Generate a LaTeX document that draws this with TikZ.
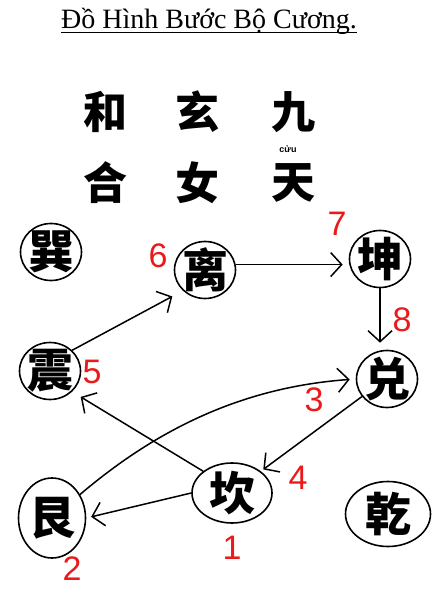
\documentclass[tikz,border=0pt]{standalone}
\usepackage{fontspec}
\setmainfont{Liberation Serif}
\newfontfamily\cjk{Noto Sans CJK SC}
\newfontfamily\digits{Liberation Sans}
\usetikzlibrary{shapes.geometric,arrows.meta}
\definecolor{numred}{RGB}{235,25,25}

\begin{document}
\begin{tikzpicture}[x=1pt, y=-1pt,
    gua/.style={ellipse, draw=black, line width=1.6pt, inner sep=-8pt,
                minimum width=61pt, minimum height=57pt,
                font=\cjk\bfseries\fontsize{46}{46}\selectfont},
    big/.style={inner sep=0pt, font=\cjk\bfseries\fontsize{44}{44}\selectfont},
    num/.style={inner sep=0pt, text=numred, font=\digits\fontsize{34}{34}\selectfont},
    walk/.style={line width=1.5pt, -{Straight Barb[length=11pt, width=24pt]}}
]
    \useasboundingbox (0,0) rectangle (444,601);
    \fill[white] (0,0) rectangle (444,601);

    % title
    \node[anchor=base, inner xsep=0pt, font=\fontsize{28}{28}\selectfont] (title) at (209,29) {Đồ Hình Bước Bộ Cương.};
    \draw[line width=1.2pt] ([yshift=-3.5pt]title.base west) -- ([yshift=-3.5pt]title.base east);

    % characters above the palaces
    \node[big] (he)   at (105,112) {和};
    \node[big] (xuan) at (197,112) {玄};
    \node[big] (jiu)  at (293,112) {九};
    \node[inner sep=0pt, font=\digits\bfseries\fontsize{9}{9}\selectfont] (cuu) at (288,149) {cửu};
    \node[big] (hop)  at (105,183) {合};
    \node[big] (nu)   at (197,183) {女};
    \node[big] (tian) at (293,183) {天};

    % eight palaces
    \node[gua] (xun)  at (51,252)  {巽};
    \node[gua] (li)   at (205,270) {离};
    \node[gua] (kun)  at (380,259) {坤};
    \node[gua] (zhen) at (50,371)  {震};
    \node[gua] (dui)  at (387,379) {兑};
    \node[gua, minimum width=80pt, minimum height=60pt] (kan)  at (232,493) {坎};
    \node[gua, minimum width=67pt, minimum height=80pt] (gen)  at (52,518)  {艮};
    \node[gua, minimum width=85pt, minimum height=65pt] (qian) at (388,514) {乾};

    % step numbers
    \node[num] (n1) at (232,548) {1};
    \node[num] (n2) at (72,569)  {2};
    \node[num] (n3) at (314,400) {3};
    \node[num] (n4) at (298,478) {4};
    \node[num] (n5) at (92,372)  {5};
    \node[num] (n6) at (158,256) {6};
    \node[num] (n7) at (337,224) {7};
    \node[num] (n8) at (402,320) {8};

    % walking order
    \draw[walk, shorten >=5pt] (kan.west) -- (gen.east);
    \draw[walk, shorten >=6pt] (gen.40) .. controls +(80,-68) and +(-110,8) .. (dui.west);
    \draw[walk, shorten >=3pt] (dui.215) -- (kan.north east);
    \draw[walk, shorten >=10pt] (kan.north west) -- (zhen.south east);
    \draw[walk, shorten >=12pt] (zhen.north east) -- (li.south west);
    \draw[walk, shorten >=6pt] (li.10) -- (li.10 -| kun.west);
    \draw[walk, shorten >=7pt] (kun.south) -- (kun.south |- dui.north);
\end{tikzpicture}
\end{document}
